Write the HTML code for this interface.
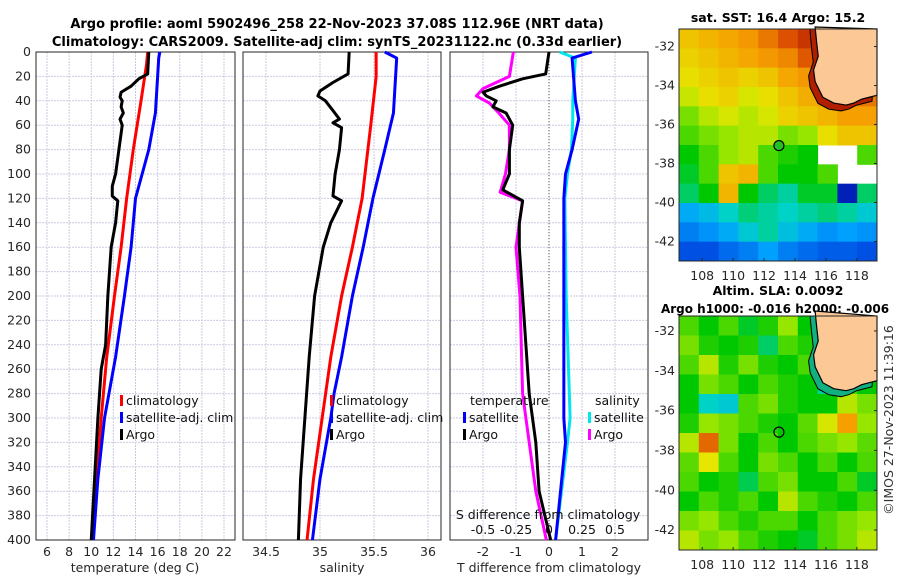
<!DOCTYPE html>
<html><head><meta charset="utf-8"><style>
html,body{margin:0;padding:0;background:#fff}
svg{display:block;font-family:"DejaVu Sans","Liberation Sans",sans-serif}
</style></head><body>
<svg id="fig" width="900" height="580" viewBox="0 0 900 580">
<text x="337" y="28" text-anchor="middle" font-size="13" font-weight="bold">Argo profile: aoml 5902496_258 22-Nov-2023 37.08S 112.96E (NRT data)</text>
<text x="337" y="46" text-anchor="middle" font-size="13" font-weight="bold">Climatology: CARS2009. Satellite-adj clim: synTS_20231122.nc (0.33d earlier)</text>
<text x="778" y="22" text-anchor="middle" font-size="12.5" font-weight="bold">sat. SST: 16.4 Argo: 15.2</text>
<text x="778" y="295" text-anchor="middle" font-size="12.5" font-weight="bold">Altim. SLA: 0.0092</text>
<text x="775" y="313" text-anchor="middle" font-size="12" font-weight="bold">Argo h1000: -0.016 h2000: -0.006</text>
<text transform="translate(893,420) rotate(-90)" text-anchor="middle" font-size="12.5" fill="#333">©IMOS 27-Nov-2023 11:39:16</text>
</svg>
<script>
// ---- profile data ----
const tDepth=[0,18,22,28,33,37,40,45,50,55,60,80,100,110,118,122,140,160,200,240,260,300,350,400];
const tArgo=[15.2,15.1,14.3,13.6,12.7,12.6,12.8,12.7,12.9,12.6,12.8,12.5,12.2,11.9,11.9,12.4,12.2,11.8,11.5,11.3,10.9,10.6,10.3,10.0];
const cDepth=[0,10,40,80,120,160,200,250,300,350,400];
const tClim=[15.1,15.0,14.5,13.8,13.2,12.7,12.1,11.4,10.9,10.5,10.1];
const sDepth=[0,5,50,80,120,160,200,250,280,300,350,400];
const tSat=[16.2,16.1,15.8,15.2,14.0,13.6,13.0,12.2,11.6,11.2,10.6,10.2];
const sArgoDepth=[0,18,25,32,36,40,48,55,58,62,80,100,118,122,140,160,200,250,300,350,400];
const sArgo=[35.27,35.26,35.12,35.0,34.98,35.05,35.12,35.18,35.12,35.2,35.18,35.14,35.12,35.2,35.1,35.03,34.95,34.9,34.86,34.82,34.8];
const sClimDepth=[0,20,60,120,160,200,250,300,350,400];
const sClim=[35.52,35.52,35.47,35.39,35.3,35.2,35.1,35.02,34.94,34.88];
const sSatDepth=[0,5,50,80,120,160,200,250,280,300,350,400];
const sSat=[35.6,35.71,35.68,35.6,35.49,35.4,35.3,35.2,35.13,35.1,35.0,34.93];
const dTArgoDepth=[0,18,22,28,33,36,40,45,50,60,80,100,113,122,140,160,200,240,280,320,360,400];
const dTArgo=[0,-0.1,-0.8,-1.5,-2.0,-1.9,-1.6,-1.7,-1.3,-1.1,-1.2,-1.2,-1.4,-0.8,-0.9,-0.9,-0.8,-0.7,-0.6,-0.4,-0.3,0.05];
const dSArgoDepth=[0,20,30,36,42,50,60,80,100,115,122,160,200,280,320,360,400];
const dSArgo=[-0.27,-0.3,-0.5,-0.55,-0.45,-0.38,-0.3,-0.3,-0.33,-0.37,-0.2,-0.25,-0.22,-0.2,-0.15,-0.1,-0.02];
const dSatDepth=[0,5,40,55,80,100,120,200,300,320,400];
const dTSat=[1.3,0.7,0.8,0.9,0.7,0.5,0.45,0.45,0.45,0.5,0.2];
const dSSat=[0.08,0.2,0.18,0.18,0.17,0.14,0.12,0.13,0.16,0.14,0.05];
const depthTicks=[0,20,40,60,80,100,120,140,160,180,200,220,240,260,280,300,320,340,360,380,400];
const tTicks=[6,8,10,12,14,16,18,20,22];
const sTicks=[34.5,35,35.5,36];
const dTTicks=[-2,-1,0,1,2];
const dSTicks=[-0.5,-0.25,0,0.25,0.5];
// ---- map data (colormap index 0..1, -1 = missing) ----
const sstGrid=[
[.70,.72,.74,.76,.80,.85,.90,.95,.95,.95],
[.68,.70,.72,.74,.76,.78,.84,.90,.92,.92],
[.66,.68,.70,.68,.70,.74,.76,.80,.82,.84],
[.63,.66,.68,.64,.66,.70,.73,.76,.78,.80],
[.58,.62,.64,.62,.64,.68,.70,.72,.75,.75],
[.55,.58,.60,.62,.62,.58,.60,.66,.70,.70],
[.50,.55,.60,.62,.55,.52,.50,-1,-1,.55],
[.48,.55,.70,.72,.55,.50,.50,.55,-1,-1],
[.45,.50,.72,.50,.45,.42,.48,.48,.08,.45],
[.32,.35,.40,.44,.42,.40,.42,.44,.42,.38],
[.25,.28,.32,.38,.42,.36,.32,.28,.30,.28],
[.18,.18,.22,.25,.30,.25,.22,.20,.20,.18]];
const slaGrid=[
[.55,.50,.55,.48,.52,.60,.50,.55,.50,.50],
[.58,.52,.50,.52,.45,.55,.52,.50,.50,.50],
[.55,.62,.52,.58,.52,.50,.55,.50,.50,.50],
[.50,.58,.55,.50,.55,.52,.50,.42,.55,.50],
[.50,.40,.38,.55,.58,.52,.50,.50,.62,.58],
[.52,.60,.58,.55,.52,.50,.56,.64,.75,.60],
[.62,.82,.58,.50,.55,.50,.55,.58,.60,.56],
[.56,.65,.55,.50,.58,.55,.50,.55,.50,.55],
[.55,.50,.52,.46,.55,.58,.50,.50,.55,.48],
[.50,.55,.52,.55,.50,.62,.55,.52,.50,.55],
[.58,.60,.55,.52,.55,.55,.50,.55,.58,.60],
[.62,.58,.60,.55,.52,.50,.48,.55,.58,.62]];
const lonTicks=[108,110,112,114,116,118];
const latTicks=[-32,-34,-36,-38,-40,-42];
const coastLon=[115.3,115.4,115.5,115.2,115.3,115.8,116.5,117.3,117.8,118.3,118.8,119.3];
const coastLat=[-31.0,-31.8,-32.5,-33.2,-33.8,-34.6,-34.9,-35.0,-34.9,-34.7,-34.6,-34.5];
const argoLon=112.96, argoLat=-37.08;

const NS='http://www.w3.org/2000/svg';
const svg=document.getElementById('fig');
function mk(tag,attrs,parent){const e=document.createElementNS(NS,tag);for(const k in attrs)e.setAttribute(k,attrs[k]);(parent||svg).appendChild(e);return e;}
function txt(x,y,s,attrs,parent){const e=mk('text',Object.assign({x:x,y:y,'font-size':12.5,fill:'#262626'},attrs||{}),parent);e.textContent=s;return e;}
const Y0=52,Y1=540;
const yD=d=>Y0+(d/400)*(Y1-Y0);
function lin(d0,d1,r0,r1){return v=>r0+(v-d0)/(d1-d0)*(r1-r0);}

function panel(name,x0,x1,xs,ticks,fmt){
  const g=mk('g',{});
  
  
  ticks.forEach(t=>{const l=mk('line',{x1:xs(t),x2:xs(t),y1:Y0,y2:Y1,stroke:'#c9cbe3','stroke-width':1,'stroke-dasharray':'2,1'},g);
    });
  depthTicks.forEach(d=>{const l=mk('line',{x1:x0,x2:x1,y1:yD(d),y2:yD(d),stroke:'#c9cbe3','stroke-width':1,'stroke-dasharray':'2,1'},g);
    });
  const r=mk('rect',{x:x0,y:Y0,width:x1-x0,height:Y1-Y0,fill:'none',stroke:'#262626','stroke-width':1},g);
  
  if(fmt) ticks.forEach(t=>{const e=txt(xs(t),556,fmt(t),{'text-anchor':'middle'},g);});
  return g;
}
function line(g,name,xs,vals,deps,color,w){
  const p=mk('polyline',{points:vals.map((v,i)=>xs(v)+','+yD(deps[i])).join(' '),fill:'none',stroke:color,'stroke-width':w||3,'stroke-linejoin':'round'},g);
  
}
function legend(g,x,y,color,label){
  const b=mk('rect',{x:x,y:y-10,width:3,height:11,fill:color},g);
  
  const t=txt(x+6,y,label,{fill:'#111'},g);
  
}
// Panel 1
const xT=lin(6,22,47,224);
const g1=panel('temperature-panel',36,235,xT,tTicks,t=>String(t));
depthTicks.forEach(d=>{const e=txt(31,yD(d)+4,String(d),{'text-anchor':'end'});});
line(g1,'temp-climatology-line',xT,tClim,cDepth,'#ff0000');
line(g1,'temp-satellite-line',xT,tSat,sDepth,'#0000ff');
line(g1,'temp-argo-line',xT,tArgo,tDepth,'#000');
legend(g1,120,405,'#ff0000','climatology');legend(g1,120,422,'#0000ff','satellite-adj. clim');legend(g1,120,439,'#000','Argo');
let e=txt(135,572,'temperature (deg C)',{'text-anchor':'middle'});
// Panel 2
const xS=lin(34.5,36,266,428);
const g2=panel('salinity-panel',243,441,xS,sTicks,t=>String(t));
line(g2,'sal-climatology-line',xS,sClim,sClimDepth,'#ff0000');
line(g2,'sal-satellite-line',xS,sSat,sSatDepth,'#0000ff');
line(g2,'sal-argo-line',xS,sArgo,sArgoDepth,'#000');
legend(g2,330,405,'#ff0000','climatology');legend(g2,330,422,'#0000ff','satellite-adj. clim');legend(g2,330,439,'#000','Argo');
e=txt(342,572,'salinity',{'text-anchor':'middle'});
// Panel 3
const xDT=lin(-2,2,483,615);
const xDS=lin(-0.5,0.5,483,615);
const g3=panel('difference-panel',450,648,xDT,dTTicks,t=>String(t));
const zl=mk('line',{x1:xDT(0),x2:xDT(0),y1:Y0,y2:Y1,stroke:'#555','stroke-width':1,'stroke-dasharray':'1,2'},g3);

line(g3,'sal-diff-satellite-line',xDS,dSSat,dSatDepth,'#00e5ee');
line(g3,'temp-diff-satellite-line',xDT,dTSat,dSatDepth,'#0000ff');
line(g3,'sal-diff-argo-line',xDS,dSArgo,dSArgoDepth,'#ff00ff');
line(g3,'temp-diff-argo-line',xDT,dTArgo,dTArgoDepth,'#000');
e=txt(470,405,'temperature',{fill:'#111'},g3);
e=txt(595,405,'salinity',{fill:'#111'},g3);
legend(g3,463,422,'#0000ff','satellite');legend(g3,463,439,'#000','Argo');
legend(g3,588,422,'#00e5ee','satellite');legend(g3,588,439,'#ff00ff','Argo');
e=txt(548,519,'S difference from climatology',{'text-anchor':'middle',fill:'#111'});
dSTicks.forEach(t=>{const l=txt(xDS(t),534,String(t),{'text-anchor':'middle',fill:'#111'});});
e=txt(549,572,'T difference from climatology',{'text-anchor':'middle'});

// Maps
const cmapStops=[[0,0,0,140],[.15,0,60,220],[.3,0,160,255],[.4,0,210,200],[.5,0,200,0],[.6,150,230,0],[.65,230,230,0],[.75,245,160,0],[.85,220,80,0],[1,160,0,0]];
function cmap(v){v=Math.max(0,Math.min(1,v));for(let i=1;i<cmapStops.length;i++){const a=cmapStops[i-1],b=cmapStops[i];if(v<=b[0]){const f=(v-a[0])/(b[0]-a[0]);return `rgb(${Math.round(a[1]+f*(b[1]-a[1]))},${Math.round(a[2]+f*(b[2]-a[2]))},${Math.round(a[3]+f*(b[3]-a[3]))})`;}}return 'rgb(160,0,0)';}
function map(name,grid,mx0,mx1,my0,my1,latTop,latBot,fillMarker,shelfColor){
  const xL=lin(106.5,119.3,mx0,mx1), yL=lin(latTop,latBot,my0,my1);
  const g=mk('g',{});
  const rows=grid.length,cols=grid[0].length,cw=(mx1-mx0)/cols,ch=(my1-my0)/rows;
  mk('rect',{x:mx0,y:my0,width:mx1-mx0,height:my1-my0,fill:'#fff'},g);
  grid.forEach((row,i)=>row.forEach((v,j)=>{if(v<0)return;const c=mk('rect',{x:mx0+j*cw,y:my0+i*ch,width:cw+0.5,height:ch+0.5,fill:cmap(v)},g);}));
  const shelfPts=coastLon.map((lo,i)=>(xL(lo)-5)+','+(yL(coastLat[i])+6)).join(' ');
  const sh=mk('polygon',{points:shelfPts+' '+mx1+','+(my0)+' '+(xL(coastLon[0])-5)+','+my0,fill:shelfColor,stroke:'#000','stroke-width':1},g);
  
  let pts=coastLon.map((lo,i)=>xL(lo)+','+yL(coastLat[i])).join(' ');
  const land=mk('polygon',{points:pts+' '+mx1+','+my0,fill:'#fcc896',stroke:'#000','stroke-width':1.2},g);
  
  const m=mk('circle',{cx:xL(argoLon),cy:yL(argoLat),r:5,fill:fillMarker,stroke:'#000','stroke-width':1.2},g);
  
  const f=mk('rect',{x:mx0,y:my0,width:mx1-mx0,height:my1-my0,fill:'none',stroke:'#262626'},g);
  lonTicks.forEach(t=>{const l=txt(xL(t),my1+19,String(t),{'text-anchor':'middle'},g);
    mk('line',{x1:xL(t),x2:xL(t),y1:my1,y2:my1-3,stroke:'#262626'},g);});
  latTicks.forEach(t=>{const l=txt(mx0-4,yL(t)+4,String(t),{'text-anchor':'end'},g);
    mk('line',{x1:mx1,x2:mx1-3,y1:yL(t),y2:yL(t),stroke:'#262626'},g);});
}
map('sst-map',sstGrid,679,877,29,261,-31.1,-43.0,'#22c022','#b02000');
map('sla-map',slaGrid,679,877,316,550,-31.25,-43.0,'none','#10b080');
</script>
</body></html>
